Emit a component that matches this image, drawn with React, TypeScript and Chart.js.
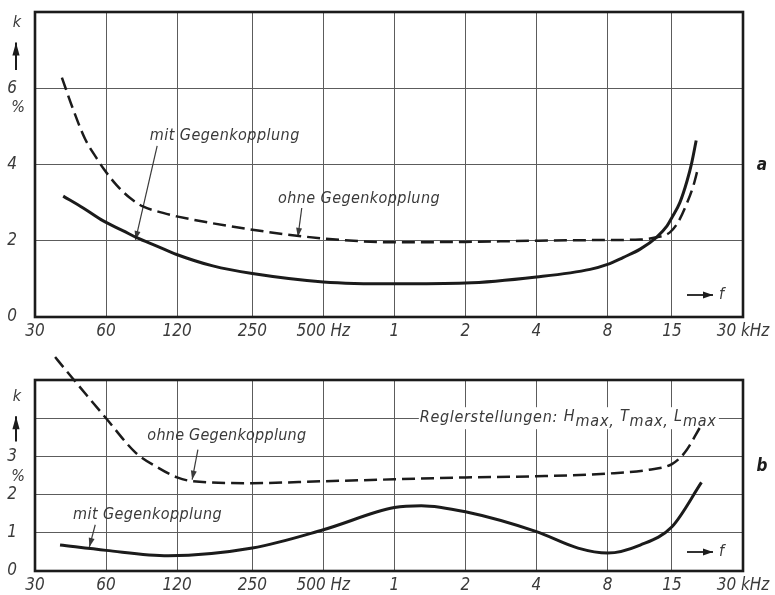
import React, { useEffect, useRef } from 'react';
import { Chart, registerables } from 'chart.js';
Chart.register(...registerables);

// ---------- data ----------
const X_TICKS = [30, 60, 120, 250, 500, 1000, 2000, 4000, 8000, 15000, 30000];
const X_LABELS = ['30', '60', '120', '250', '500 Hz', '1', '2', '4', '8', '15', '30 kHz'];

// panel a
const A_MIT_F = [39.5, 48, 58.4, 71, 80.9, 98.5, 119.5, 170, 250, 500, 1000, 2000, 4000, 6750, 8000, 9300, 11000, 12900, 14300, 15000, 16200, 17400, 18200, 19000];
const A_MIT_K = [3.17, 2.86, 2.52, 2.26, 2.08, 1.86, 1.64, 1.34, 1.14, 0.92, 0.87, 0.89, 1.05, 1.25, 1.38, 1.56, 1.78, 2.09, 2.39, 2.61, 3.0, 3.58, 4.05, 4.63];
const A_OHNE_F = [39, 43.5, 48.8, 54.8, 58.4, 66.5, 75.9, 86, 104.6, 119.5, 250, 500, 1000, 2000, 4000, 8000, 11000, 12900, 14700, 15900, 17400, 18500, 19300];
const A_OHNE_K = [6.28, 5.45, 4.68, 4.16, 3.9, 3.46, 3.12, 2.9, 2.73, 2.64, 2.29, 2.06, 1.96, 1.97, 2.0, 2.02, 2.03, 2.09, 2.22, 2.48, 3.0, 3.45, 3.88];

// panel b
const B_MIT_F = [38.3, 60, 110, 250, 500, 1000, 1300, 2000, 4000, 6000, 8000, 11000, 15000, 20000];
const B_MIT_K = [0.68, 0.54, 0.4, 0.6, 1.08, 1.66, 1.71, 1.55, 1.03, 0.6, 0.47, 0.68, 1.16, 2.32];
const B_OHNE_F = [36.5, 40, 50, 60, 80, 100, 120, 140, 250, 500, 1000, 2000, 4000, 8000, 12000, 15000, 17000, 19900];
const B_OHNE_K = [5.6, 5.3, 4.58, 4.0, 3.1, 2.7, 2.45, 2.35, 2.3, 2.35, 2.4, 2.45, 2.48, 2.55, 2.65, 2.8, 3.1, 3.8];

// ---------- styles ----------
const FAM = "'Liberation Sans Narrow', 'DejaVu Sans Condensed', 'DejaVu Sans', sans-serif";
const INK = '#1b1b1b';
const TXT = '#3a3a3a';
const GRID = '#5c5c5c';

const pts = (f: number[], k: number[]) => f.map((v, i) => ({ x: v, y: k[i] }));

function arrow(ctx: CanvasRenderingContext2D, x1: number, y1: number, x2: number, y2: number, head = 9, hw = 3.2) {
  ctx.beginPath();
  ctx.moveTo(x1, y1);
  ctx.lineTo(x2, y2);
  ctx.stroke();
  const a = Math.atan2(y2 - y1, x2 - x1);
  ctx.beginPath();
  ctx.moveTo(x2, y2);
  ctx.lineTo(x2 - head * Math.cos(a) + hw * Math.sin(a), y2 - head * Math.sin(a) - hw * Math.cos(a));
  ctx.lineTo(x2 - head * Math.cos(a) - hw * Math.sin(a), y2 - head * Math.sin(a) + hw * Math.cos(a));
  ctx.closePath();
  ctx.fill();
}

function fitted(ctx: any, text: string, left: number, cy: number, width: number) {
  ctx.letterSpacing = '0px';
  const w = ctx.measureText(text).width;
  const ls = (width - w) / text.length;
  ctx.letterSpacing = ls.toFixed(2) + 'px';
  ctx.textAlign = 'left';
  ctx.textBaseline = 'middle';
  ctx.fillText(text, left, cy);
  ctx.letterSpacing = '0px';
}

type Note = { text: string; f: number; k: number; w: number; from: [number, number]; to: [number, number] };

type PanelCfg = {
  name: string;
  yMax: number;
  yStep: number;
  hidden: number[];
  areaTop: number;
  xh: number;
  kVal: number;
  arrowFrom: number;
  arrowTo: number;
  pctTick: number;
  letter: string;
  letterVal: number;
  notes: Note[];
  regler?: boolean;
  fOff: number;
};

const PANEL_A: PanelCfg = {
  name: 'a', yMax: 8, yStep: 2, hidden: [8], areaTop: 12, xh: 23,
  kVal: 7.72, arrowFrom: 6.48, arrowTo: 7.2, pctTick: 6, letter: 'a', letterVal: 3.96, fOff: 22,
  notes: [
    { text: 'mit Gegenkopplung', f: 191, k: 4.75, w: 150, from: [98.8, 4.49], to: [80, 2.02] },
    { text: 'ohne Gegenkopplung', f: 708, k: 3.1, w: 162, from: [405, 2.86], to: [390, 2.1] },
  ],
};

const PANEL_B: PanelCfg = {
  name: 'b', yMax: 5, yStep: 1, hidden: [4, 5], areaTop: 40, xh: 24,
  kVal: 4.55, arrowFrom: 3.39, arrowTo: 4.05, pctTick: 3, letter: 'b', letterVal: 2.74, fOff: 19,
  notes: [
    { text: 'ohne Gegenkopplung', f: 195, k: 3.53, w: 159, from: [147, 3.18], to: [139, 2.39] },
    { text: 'mit Gegenkopplung', f: 90, k: 1.47, w: 149, from: [54, 1.21], to: [51, 0.63] },
  ],
  regler: true,
};

function decoPlugin(p: PanelCfg) {
  return {
    id: 'deco' + p.name,
    beforeDatasetsDraw(chart: any) {
      const { ctx, scales } = chart;
      const x = scales.x, y = scales.y;
      ctx.save();
      ctx.fillStyle = TXT;
      ctx.strokeStyle = TXT;
      ctx.lineWidth = 1.2;
      ctx.font = `italic 16px ${FAM}`;
      for (const n of p.notes) {
        const cx = x.getPixelForValue(n.f);
        const cy = y.getPixelForValue(n.k);
        fitted(ctx, n.text, cx - n.w / 2, cy, n.w);
        arrow(ctx, x.getPixelForValue(n.from[0]), y.getPixelForValue(n.from[1]),
          x.getPixelForValue(n.to[0]), y.getPixelForValue(n.to[1]), 9, 3);
      }
      if (p.regler) {
        const cy = y.getPixelForValue(4);
        const left = x.getPixelForValue(1320);
        ctx.fillStyle = '#ffffff';
        ctx.fillRect(left - 4, cy - 11, 300, 22);
        ctx.fillStyle = TXT;
        ctx.font = `italic 16px ${FAM}`;
        fitted(ctx, 'Reglerstellungen:', left - 3, cy, 138);
        let cur = left + 141;
        const parts: [string, boolean][] = [['H', false], ['max,', true], [' T', false], ['max,', true], [' L', false], ['max', true]];
        ctx.letterSpacing = '0.8px';
        for (const [t, sub] of parts) {
          ctx.textAlign = 'left';
          ctx.textBaseline = 'middle';
          ctx.fillText(t, cur, cy + (sub ? 4 : -1));
          cur += ctx.measureText(t).width;
        }
        ctx.letterSpacing = '0px';
      }
      ctx.restore();
    },
    afterDraw(chart: any) {
      const { ctx, chartArea: ca, scales } = chart;
      const y = scales.y;
      ctx.save();
      // frame
      ctx.strokeStyle = INK;
      ctx.lineWidth = 2.6;
      ctx.strokeRect(ca.left, ca.top, ca.right - ca.left, ca.bottom - ca.top);
      // k arrow %
      ctx.fillStyle = TXT;
      ctx.strokeStyle = INK;
      ctx.font = `italic 16px ${FAM}`;
      ctx.textAlign = 'center';
      ctx.textBaseline = 'middle';
      ctx.fillText('k', ca.left - 18, y.getPixelForValue(p.kVal));
      ctx.fillStyle = INK;
      ctx.lineWidth = 2;
      arrow(ctx, ca.left - 19, y.getPixelForValue(p.arrowFrom), ca.left - 19, y.getPixelForValue(p.arrowTo), 13, 3.6);
      ctx.fillStyle = TXT;
      ctx.fillText('%', ca.left - 17, y.getPixelForValue(p.pctTick) + 20);
      // panel letter
      ctx.fillStyle = INK;
      ctx.font = `italic bold 17px ${FAM}`;
      ctx.fillText(p.letter, ca.right + 19, y.getPixelForValue(p.letterVal));
      // -> f
      const fy = ca.bottom - p.fOff;
      ctx.lineWidth = 1.8;
      arrow(ctx, ca.right - 56, fy, ca.right - 30, fy, 10, 3.5);
      ctx.fillStyle = TXT;
      ctx.font = `italic 16px ${FAM}`;
      ctx.textAlign = 'left';
      ctx.fillText('f', ca.right - 24, fy);
      ctx.restore();
    },
  };
}

const zeroPad = (s: any) => {
  s.paddingTop = 0;
  s.paddingBottom = 0;
  s.paddingLeft = 0;
  s.paddingRight = 0;
};

function makeChart(canvas: HTMLCanvasElement, p: PanelCfg, mitF: number[], mitK: number[], ohneF: number[], ohneK: number[]) {
  const tickFont = { family: FAM, size: 17, style: 'italic' as const };
  return new Chart(canvas, {
    type: 'line',
    data: {
      datasets: [
        {
          label: 'mit Gegenkopplung',
          data: pts(mitF, mitK),
          borderColor: INK,
          borderWidth: 3,
          pointRadius: 0,
          cubicInterpolationMode: 'monotone',
          clip: false as any,
        },
        {
          label: 'ohne Gegenkopplung',
          data: pts(ohneF, ohneK),
          borderColor: INK,
          borderWidth: 2.5,
          borderDash: [13, 6],
          pointRadius: 0,
          cubicInterpolationMode: 'monotone',
          clip: false as any,
        },
      ],
    },
    options: {
      responsive: false,
      animation: false,
      events: [],
      layout: { padding: { top: p.areaTop, right: 32, left: 0, bottom: 0 } },
      plugins: { legend: { display: false }, tooltip: { enabled: false } },
      scales: {
        x: {
          type: 'logarithmic',
          min: 30,
          max: 30000,
          afterBuildTicks: (s: any) => { s.ticks = X_TICKS.map((v) => ({ value: v })); },
          afterFit: (s: any) => { s.height = p.xh; zeroPad(s); },
          border: { display: false },
          grid: { color: GRID, lineWidth: 1, drawTicks: false },
          ticks: {
            autoSkip: false,
            maxRotation: 0,
            padding: 4,
            color: TXT,
            font: tickFont,
            callback: (v: any) => { const i = X_TICKS.indexOf(Number(v)); return i >= 0 ? X_LABELS[i] : ''; },
          },
        },
        y: {
          type: 'linear',
          min: 0,
          max: p.yMax,
          afterFit: (s: any) => { s.width = 35; zeroPad(s); },
          border: { display: false },
          grid: { color: GRID, lineWidth: 1, drawTicks: false },
          ticks: {
            stepSize: p.yStep,
            padding: 18,
            color: TXT,
            font: tickFont,
            callback: (v: any) => (p.hidden.includes(Number(v)) ? '' : String(v)),
          },
        },
      },
    },
    plugins: [decoPlugin(p)],
  } as any);
}

export default function App() {
  const refA = useRef<HTMLCanvasElement>(null);
  const refB = useRef<HTMLCanvasElement>(null);
  useEffect(() => {
    const a = makeChart(refA.current!, PANEL_A, A_MIT_F, A_MIT_K, A_OHNE_F, A_OHNE_K);
    const b = makeChart(refB.current!, PANEL_B, B_MIT_F, B_MIT_K, B_OHNE_F, B_OHNE_K);
    return () => { a.destroy(); b.destroy(); };
  }, []);
  return (
    <div style={{ position: 'fixed', left: 0, top: 0, width: 775, height: 595, background: '#fff' }}>
      <canvas ref={refA} width={775} height={340} style={{ position: 'absolute', left: 0, top: 0 }} />
      <canvas ref={refB} width={775} height={255} style={{ position: 'absolute', left: 0, top: 340 }} />
    </div>
  );
}
